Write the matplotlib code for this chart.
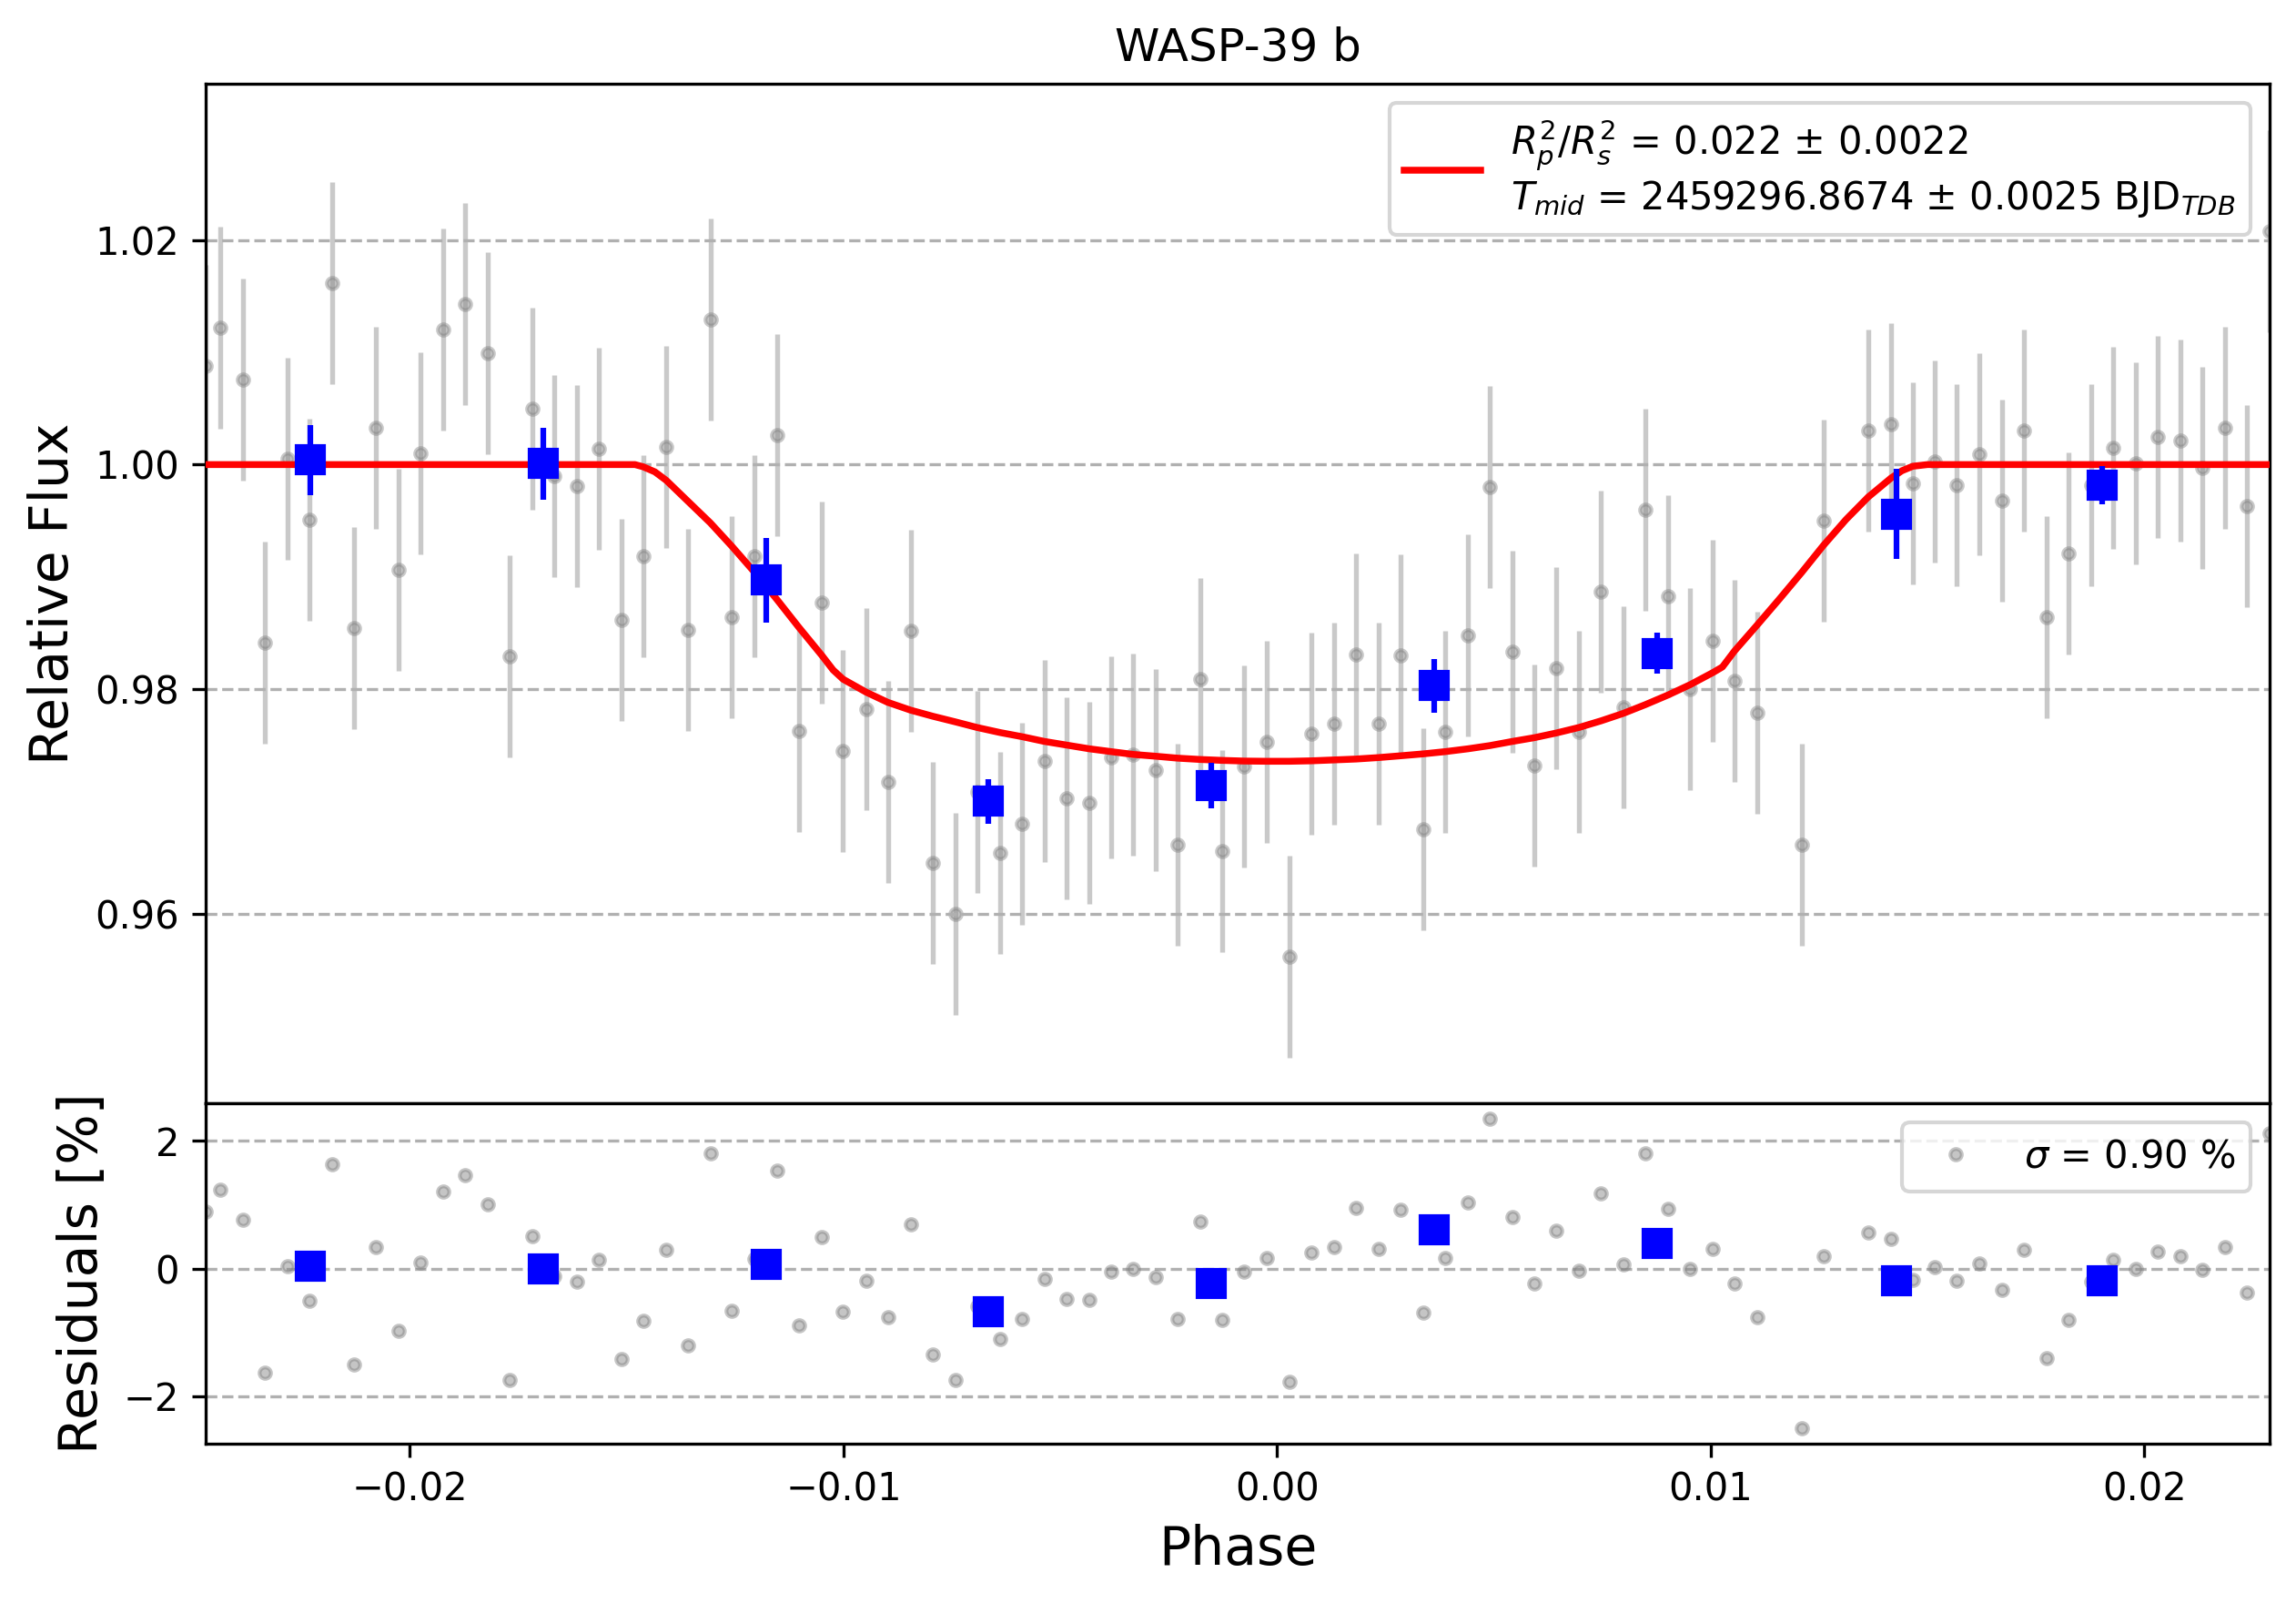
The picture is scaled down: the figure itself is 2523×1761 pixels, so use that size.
import matplotlib
matplotlib.use("Agg")
import matplotlib.pyplot as plt

# detrended light curve (phase, relative flux)
phase = [-0.02471, -0.02438, -0.02386, -0.02335, -0.02282, -0.02232, -0.02180, -0.02130,
         -0.02079, -0.02026, -0.01976, -0.01924, -0.01872, -0.01820, -0.01770, -0.01718,
         -0.01668, -0.01615, -0.01564, -0.01512, -0.01462, -0.01409, -0.01358, -0.01307,
         -0.01257, -0.01205, -0.01154, -0.01103, -0.01050, -0.01001, -0.00948, -0.00898,
         -0.00845, -0.00794, -0.00742, -0.00692, -0.00639, -0.00588, -0.00537, -0.00485,
         -0.00433, -0.00383, -0.00332, -0.00280, -0.00230, -0.00177, -0.00127, -0.00076,
         -0.00024, 0.00028, 0.00079, 0.00131, 0.00182, 0.00234, 0.00285, 0.00337,
         0.00388, 0.00440, 0.00491, 0.00543, 0.00593, 0.00644, 0.00696, 0.00747,
         0.00798, 0.00849, 0.00902, 0.00953, 0.01005, 0.01055, 0.01107, 0.01210,
         0.01260, 0.01363, 0.01416, 0.01466, 0.01516, 0.01568, 0.01619, 0.01672,
         0.01723, 0.01774, 0.01825, 0.01877, 0.01928, 0.01980, 0.02031, 0.02083,
         0.02133, 0.02186, 0.02237, 0.02289]

flux = [1.0088, 1.0122, 1.0076, 0.9841, 1.0005, 0.9951, 1.0162, 0.9854,
        1.0033, 0.9906, 1.0010, 1.0120, 1.0143, 1.0099, 0.9829, 1.0050,
        0.9990, 0.9981, 1.0014, 0.9862, 0.9918, 1.0016, 0.9853, 1.0129,
        0.9864, 0.9918, 1.0026, 0.9763, 0.9877, 0.9745, 0.9782, 0.9717,
        0.9852, 0.9645, 0.9600, 0.9708, 0.9654, 0.9680, 0.9736, 0.9703,
        0.9699, 0.9739, 0.9742, 0.9728, 0.9661, 0.9809, 0.9656, 0.9731,
        0.9753, 0.9562, 0.9760, 0.9769, 0.9831, 0.9769, 0.9830, 0.9675,
        0.9762, 0.9848, 0.9980, 0.9833, 0.9732, 0.9819, 0.9762, 0.9887,
        0.9784, 0.9960, 0.9883, 0.9800, 0.9843, 0.9807, 0.9779, 0.9661,
        0.9950, 1.0030, 1.0036, 0.9983, 1.0003, 0.9982, 1.0009, 0.9968,
        1.0030, 0.9864, 0.9921, 0.9982, 1.0015, 1.0001, 1.0025, 1.0021,
        0.9997, 1.0033, 0.9963, 1.0208]
flux_err = 0.0090

# residuals in percent
resid = [0.89, 1.24, 0.76, -1.63, 0.03, -0.51, 1.64, -1.50,
         0.33, -0.97, 0.10, 1.21, 1.46, 1.00, -1.74, 0.51,
         -0.12, -0.20, 0.13, -1.41, -0.82, 0.29, -1.21, 1.81,
         -0.66, 0.15, 1.53, -0.89, 0.50, -0.67, -0.19, -0.76,
         0.69, -1.34, -1.74, -0.59, -1.10, -0.79, -0.16, -0.47,
         -0.49, -0.05, 0.00, -0.13, -0.79, 0.73, -0.81, -0.05,
         0.17, -1.77, 0.25, 0.34, 0.95, 0.31, 0.92, -0.69,
         0.17, 1.04, 2.34, 0.81, -0.24, 0.59, -0.04, 1.18,
         0.06, 1.80, 0.93, -0.01, 0.31, -0.23, -0.76, -2.50,
         0.19, 0.57, 0.47, -0.17, 0.02, -0.19, 0.08, -0.33,
         0.30, -1.40, -0.81, -0.20, 0.14, -0.01, 0.26, 0.20,
         -0.02, 0.33, -0.37, 2.12]

# transit model
model_phase = [-0.02471, -0.01481, -0.01462, -0.01435, -0.01409, -0.01358, -0.01307, -0.01257,
               -0.01205, -0.01154, -0.01103, -0.01050, -0.01024, -0.01001, -0.00948, -0.00898,
               -0.00845, -0.00794, -0.00742, -0.00692, -0.00639, -0.00588, -0.00537, -0.00485,
               -0.00433, -0.00383, -0.00332, -0.00280, -0.00230, -0.00177, -0.00127, -0.00076,
               -0.00024, 0.00028, 0.00079, 0.00131, 0.00182, 0.00234, 0.00285, 0.00337,
               0.00388, 0.00440, 0.00491, 0.00543, 0.00593, 0.00644, 0.00696, 0.00747,
               0.00798, 0.00849, 0.00902, 0.00953, 0.01005, 0.01027, 0.01055, 0.01107,
               0.01158, 0.01210, 0.01260, 0.01312, 0.01363, 0.01416, 0.01441, 0.01466,
               0.01500, 0.02289]
model_flux = [1.0000, 1.0000, 0.9998, 0.99935, 0.9986, 0.9967, 0.9948, 0.9927,
              0.9904, 0.9880, 0.9855, 0.9830, 0.9817, 0.98088, 0.97973, 0.97882,
              0.97812, 0.97758, 0.97708, 0.97658, 0.97613, 0.97576, 0.97534, 0.97501,
              0.97468, 0.97443, 0.97418, 0.97402, 0.97385, 0.97373, 0.97365, 0.97359,
              0.97357, 0.97357, 0.97361, 0.97369, 0.97377, 0.97390, 0.97406, 0.97423,
              0.97443, 0.97468, 0.97497, 0.97534, 0.97567, 0.97609, 0.97658, 0.97717,
              0.97783, 0.97861, 0.97948, 0.98040, 0.98147, 0.98197, 0.9834, 0.9857,
              0.9880, 0.9904, 0.9928, 0.9951, 0.9971, 0.9988, 0.99945, 0.99985,
              1.0000, 1.0000]

# binned data
bin_phase = [-0.02230, -0.01692, -0.01178, -0.00667, -0.00152, 0.00363, 0.00877, 0.01429, 0.01903]
bin_flux = [1.0004, 1.0001, 0.9897, 0.9700, 0.9714, 0.9803, 0.9832, 0.9956, 0.9982]
bin_err = [0.0031, 0.0032, 0.0038, 0.0020, 0.0020, 0.0024, 0.0018, 0.0040, 0.0017]
bin_resid = [0.04, 0.00, 0.07, -0.67, -0.24, 0.60, 0.39, -0.19, -0.19]

fit_label = (r'$R^{2}_{p}/R^{2}_{s}$ = 0.022 $\pm$ 0.0022' + '\n'
             + r'$T_{mid}$ = 2459296.8674 $\pm$ 0.0025 BJD$_{TDB}$')

fig = plt.figure(figsize=(8.41, 5.87), dpi=300)
gs = fig.add_gridspec(2, 1, height_ratios=[3, 1], hspace=0,
                      left=0.0896, right=0.9885, top=0.9478, bottom=0.0994)
ax = fig.add_subplot(gs[0])
axr = fig.add_subplot(gs[1])

ax.errorbar(phase, flux, yerr=flux_err, ls='none', marker='o', color='gray',
            ms=3.0, elinewidth=1.3, alpha=0.42, zorder=1)
ax.plot(model_phase, model_flux, color='red', lw=1.8, zorder=5, label=fit_label)
ax.errorbar(bin_phase, bin_flux, yerr=bin_err, fmt='s', color='blue', ms=7,
            elinewidth=1.5, capsize=0, zorder=10)
ax.set_title('WASP-39 b')
ax.set_ylabel('Relative Flux', fontsize=14)
ax.set_xticks([])
ax.set_yticks([0.96, 0.98, 1.00, 1.02])
ax.set_xlim(phase[0], phase[-1])
ax.grid(True, axis='y', ls='--')
ax.legend(loc='upper right')

axr.plot(phase, resid, ls='none', marker='o', color='gray', ms=3.0, alpha=0.45,
         label=r'$\sigma$ = 0.90 %')
axr.plot(bin_phase, bin_resid, 's', color='blue', ms=7, zorder=10)
axr.set_xlim(phase[0], phase[-1])
axr.set_xticks([-0.02, -0.01, 0.0, 0.01, 0.02])
axr.set_yticks([-2, 0, 2])
axr.set_xlabel('Phase', fontsize=14)
axr.set_ylabel('Residuals [%]', fontsize=14)
axr.grid(True, axis='y', ls='--')
axr.legend(loc='upper right')

fig.savefig('out.png', dpi=300)
